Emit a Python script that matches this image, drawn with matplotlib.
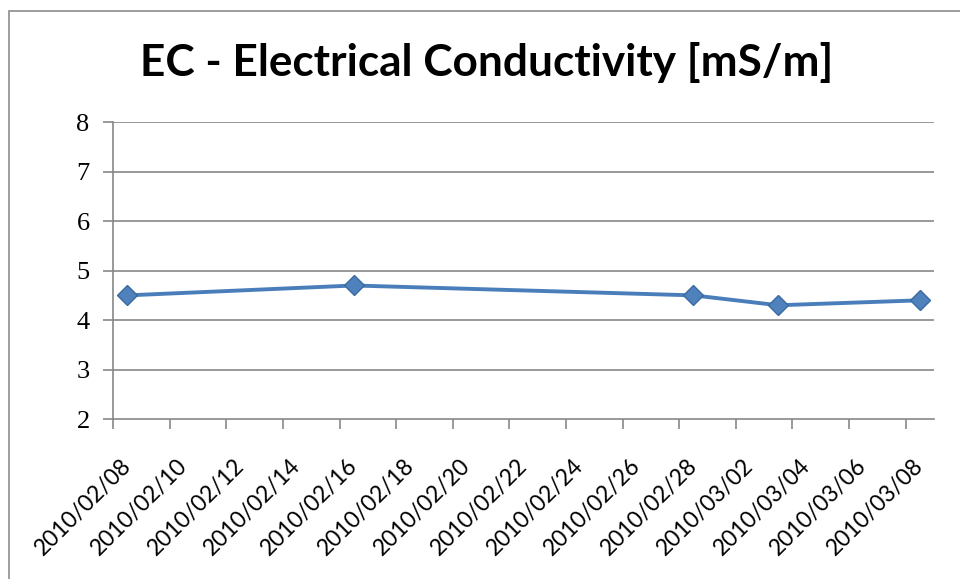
import matplotlib
matplotlib.use("Agg")
import matplotlib.pyplot as plt
import matplotlib.dates as mdates
from matplotlib.patches import Rectangle
import pandas as pd

# ---- data ----
title = "EC - Electrical Conductivity [mS/m]"
dates = ["2010-02-08", "2010-02-16", "2010-02-28", "2010-03-03", "2010-03-08"]
values = [4.5, 4.7, 4.5, 4.3, 4.4]
tick_dates = pd.date_range("2010-02-08", "2010-03-08", freq="2D")
tick_labels = [d.strftime("%Y/%m/%d") for d in tick_dates]
y_ticks = [2, 3, 4, 5, 6, 7, 8]

W, H = 960, 579
fig = plt.figure(figsize=(W / 100, H / 100), dpi=100)
fig.patch.set_facecolor("white")

# chart border (extends past right/bottom edges as in reference)
fig.add_artist(Rectangle((9 / W, -0.1), 1.2, 1 - 11 / H + 0.1,
                         transform=fig.transFigure, fill=False,
                         edgecolor="#8c8c8c", linewidth=1.2))

left, right, top, bottom = 113.3, 934, 122.3, 419
ax = fig.add_axes([left / W, 1 - bottom / H, (right - left) / W, (bottom - top) / H])

x = mdates.date2num(pd.to_datetime(dates))
tnum = mdates.date2num(tick_dates)

ax.set_xlim(tnum[0] - 0.5, tnum[-1] + 0.5)
ax.set_ylim(2, 8)

grid_c = "#878787"
for yv in y_ticks[1:]:
    ax.axhline(yv, color=grid_c, linewidth=1.2, zorder=1)

ax.plot(x, values, color="#4A7EBB", linewidth=2.8, marker="D", markersize=10,
        markerfacecolor="#4F81BD", markeredgecolor="#3B6AA0", markeredgewidth=1.0,
        zorder=3)

for s in ["top", "right"]:
    ax.spines[s].set_visible(False)
for s in ["left", "bottom"]:
    ax.spines[s].set_color(grid_c)
    ax.spines[s].set_linewidth(1.2)

ax.set_yticks(y_ticks)
ax.set_yticklabels([str(v) for v in y_ticks], family="Liberation Serif", fontsize=19)
ax.tick_params(axis="y", length=7, width=1.2, color=grid_c, pad=10)

ax.set_xticks(tnum - 0.5)
ax.set_xticklabels([])
ax.tick_params(axis="x", which="major", length=7, width=1.2, color=grid_c, direction="out")
ax.set_xticks(tnum, minor=True)
ax.set_xticklabels(tick_labels, minor=True, rotation=45, ha="right", va="center",
                   rotation_mode="anchor", family="Lato", fontsize=16.5)
ax.tick_params(axis="x", which="minor", length=0, pad=31)

fig.text(486.5 / W, 1 - 76 / H, title, ha="center", va="baseline",
         family="Lato", fontweight="bold", fontsize=31.8)

fig.savefig("out.png", dpi=100, facecolor="white")
